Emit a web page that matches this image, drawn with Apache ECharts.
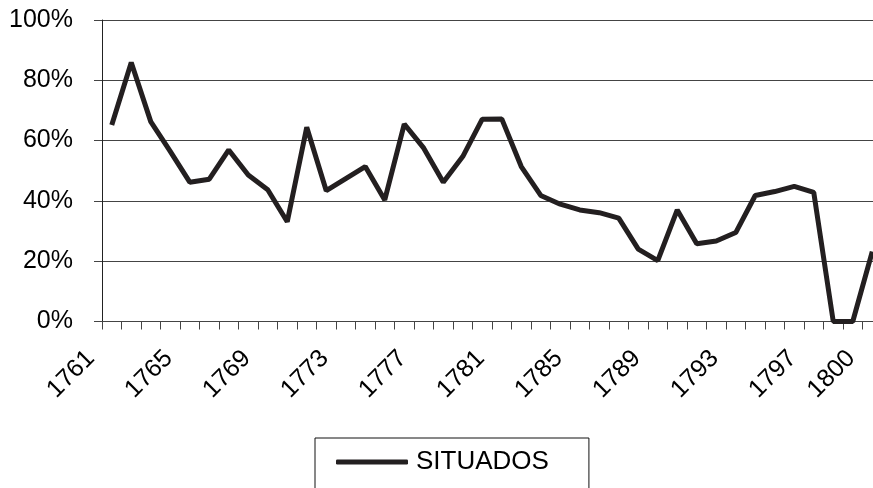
<!DOCTYPE html>
<html>
<head>
<meta charset="utf-8">
<script src="https://cdn.jsdelivr.net/npm/echarts@6/dist/echarts.min.js"></script>
<style>html,body{margin:0;padding:0;background:#fff}#c{width:873px;height:488px}</style>
</head>
<body>
<div id="c"></div>
<script>
const years = [];
for (let y = 1761; y <= 1800; y++) years.push(String(y));
const situados = [65.2, 85.9, 66.3, 56.4, 46.2, 47.2, 56.9, 48.6, 43.7, 33.1,
  64.4, 43.4, 47.4, 51.4, 40.3, 65.5, 57.5, 46.2, 54.7, 67.1,
  67.2, 51.4, 41.8, 38.9, 37.0, 36.1, 34.3, 24.0, 20.2, 37.0,
  25.8, 26.7, 29.5, 41.8, 43.1, 44.8, 42.8, 0, 0, 23.2];
const yTicks = { min: 0, max: 100, interval: 20 };
const seriesName = 'SITUADOS';

const font = 'Liberation Sans, Arial, sans-serif';
const labelInterval = function (i) { return i % 4 === 0 || i === years.length - 1; };

const chart = echarts.init(document.getElementById('c'), null, { renderer: 'canvas' });
chart.setOption({
  animation: false,
  backgroundColor: '#fff',
  grid: [
    { left: 102, top: 20, width: 780, height: 301.5, containLabel: false, outerBoundsMode: 'none' },
    { left: 81, top: 20, width: 780, height: 301.5, containLabel: false, outerBoundsMode: 'none' }
  ],
  xAxis: [{
    type: 'category',
    gridIndex: 0,
    data: years,
    boundaryGap: true,
    axisLine: { lineStyle: { color: '#444', width: 1 } },
    axisTick: { show: true, interval: 0, length: 8, alignWithLabel: false, lineStyle: { color: '#444' } },
    axisLabel: { show: false },
    splitLine: { show: false }
  }, {
    type: 'category',
    gridIndex: 1,
    data: years,
    boundaryGap: true,
    axisLine: { show: false },
    axisTick: { show: false },
    axisLabel: {
      interval: labelInterval,
      rotate: 45,
      margin: 33,
      color: '#000',
      fontFamily: font,
      fontSize: 25
    },
    splitLine: { show: false }
  }],
  yAxis: [{
    type: 'value',
    gridIndex: 0,
    min: yTicks.min, max: yTicks.max, interval: yTicks.interval,
    axisLine: { show: true, lineStyle: { color: '#222', width: 1 } },
    axisTick: { show: true, length: 8, lineStyle: { color: '#444' } },
    axisLabel: {
      formatter: '{value}%',
      margin: 29,
      color: '#000',
      fontFamily: font,
      fontSize: 25
    },
    splitLine: { show: true, lineStyle: { color: '#444', width: 1 } }
  }, {
    type: 'value',
    gridIndex: 1,
    min: yTicks.min, max: yTicks.max, interval: yTicks.interval,
    show: false
  }],
  legend: {
    show: true,
    left: 315,
    top: 438,
    orient: 'horizontal',
    data: [{ name: seriesName, icon: 'roundRect' }],
    itemWidth: 72,
    itemHeight: 5,
    borderColor: '#111',
    borderWidth: 1,
    padding: [9, 40, 30, 21],
    textStyle: {
      color: '#000',
      fontFamily: font,
      fontSize: 26,
      lineHeight: 30,
      padding: [0, 0, 0, 3]
    },
    itemStyle: { color: '#231f20' }
  },
  series: [{
    name: seriesName,
    type: 'line',
    xAxisIndex: 0,
    yAxisIndex: 0,
    data: situados,
    symbol: 'none',
    showSymbol: false,
    lineStyle: { color: '#231f20', width: 5 },
    itemStyle: { color: '#231f20' }
  }]
});
</script>
</body>
</html>
